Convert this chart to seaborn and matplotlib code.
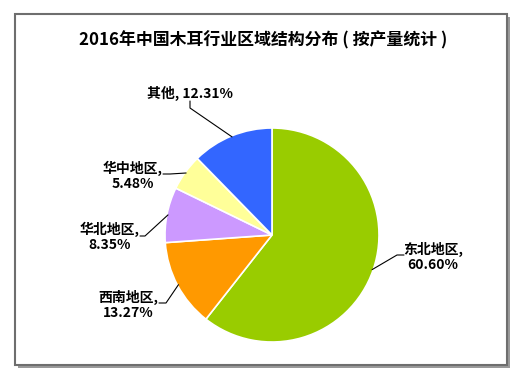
import numpy as np
import matplotlib
matplotlib.use("Agg")
import matplotlib.pyplot as plt
import matplotlib.patches as mpatches
import seaborn as sns

# Data
regions = ["东北地区", "西南地区", "华北地区", "华中地区", "其他"]
shares = [60.60, 13.27, 8.35, 5.48, 12.31]
colors = ["#99CC00", "#FF9900", "#CC99FF", "#FFFF99", "#3366FF"]
title = "2016年中国木耳行业区域结构分布 ( 按产量统计 )"

sns.set_theme(style="white")
plt.rcParams["font.family"] = ["Noto Sans CJK SC", "DejaVu Sans"]

W, H = 528, 381
fig = plt.figure(figsize=(W / 100, H / 100), dpi=100)

# framed panel with drop shadow (figure pixels, y from top)
def fbox(x0, y0, x1, y1):
    return (x0 / W, 1 - y1 / H), (x1 - x0) / W, (y1 - y0) / H

xy, w, h = fbox(18, 17, 510, 368)
fig.patches.append(mpatches.Rectangle(xy, w, h, transform=fig.transFigure,
                                      facecolor="#9a9a9a", edgecolor="none", zorder=-2))
xy, w, h = fbox(15, 14, 507, 365)
fig.patches.append(mpatches.Rectangle(xy, w, h, transform=fig.transFigure,
                                      facecolor="white", edgecolor="#6e6e6e",
                                      linewidth=1.5, zorder=-1))

fig.text(263 / W, 1 - 40 / H, title, ha="center", va="center",
         fontsize=12.2, fontweight="bold", color="black")

# pie axes: centre (272, 235) px, radius ~107 px
cx, cy, r = 272, 235, 107
ax = fig.add_axes([(cx - r) / W, (H - cy - r) / H, 2 * r / W, 2 * r / H])
ax.set_zorder(2)
ax.patch.set_visible(False)
wedges, _ = ax.pie(shares, colors=colors, startangle=90, counterclock=False,
                   radius=1.0, wedgeprops=dict(edgecolor="white", linewidth=1.2))
ax.set_xlim(-1, 1)
ax.set_ylim(-1, 1)
ax.set_aspect("equal")
ax.axis("off")


def p2d(px, py):
    return (px - cx) / r, (cy - py) / r


# label text centre and leader line start/elbow (pixels)
label_pos = {
    "东北地区": (433, 257),
    "西南地区": (128, 305),
    "华北地区": (110, 237),
    "华中地区": (133, 176),
    "其他": (190, 93),
}
leader = {
    "东北地区": [(404, 255), (397, 255)],
    "西南地区": [(159, 303), (166, 303)],
    "华北地区": [(140, 236), (145, 236)],
    "华中地区": [(163, 174), (170, 174)],
    "其他": [(190, 101), (190, 108)],
}

for wdg, name, val in zip(wedges, regions, shares):
    mid = np.deg2rad((wdg.theta1 + wdg.theta2) / 2)
    ex, ey = np.cos(mid) * 0.99, np.sin(mid) * 0.99
    pts = [p2d(*p) for p in leader[name]] + [(ex, ey)]
    ax.plot([p[0] for p in pts], [p[1] for p in pts], color="black",
            linewidth=0.8, clip_on=False)
    if name == "其他":
        txt = f"{name}, {val:.2f}%"
    else:
        txt = f"{name},\n{val:.2f}%"
    tx, ty = p2d(*label_pos[name])
    ax.text(tx, ty, txt, ha="center", va="center", fontsize=10,
            fontweight="bold", color="black", linespacing=1.1, clip_on=False)

fig.savefig("out.png", dpi=100)
